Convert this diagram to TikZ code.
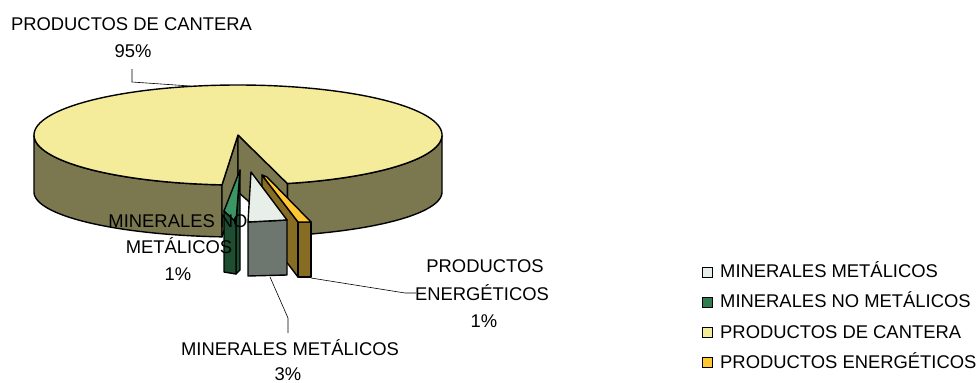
\documentclass[tikz,border=0pt]{standalone}
\usepackage{fontspec}
\setmainfont{Liberation Sans}
\definecolor{topY}{RGB}{245,236,155}
\definecolor{sideO}{RGB}{123,120,80}
\definecolor{gDark}{RGB}{30,77,50}
\definecolor{gLight}{RGB}{60,150,100}
\definecolor{wTop}{RGB}{232,238,232}
\definecolor{grayF}{RGB}{110,118,112}
\definecolor{brownF}{RGB}{135,108,35}
\definecolor{yelO}{RGB}{255,200,50}
\definecolor{legG}{RGB}{46,125,80}
\tikzset{
  face/.style={draw=black,line width=1.4pt,line join=round},
  lbl/.style={inner sep=0pt,anchor=base,font=\fontsize{18.4}{22}\selectfont,text=black},
  leglbl/.style={inner sep=0pt,anchor=base west,font=\fontsize{18.4}{22}\selectfont,text=black},
  leader/.style={draw=black,line width=0.6pt},
  legbox/.style={draw=black,line width=0.9pt}
}
\begin{document}
\begin{tikzpicture}[x=1pt,y=-1pt]
\useasboundingbox (0,0) rectangle (978,383);
% pie side (right and left front parts)
\path[face,fill=sideO] plot[domain=0:76,samples=50] ({238+204*cos(\x)},{135+50*sin(\x)})
  -- plot[domain=76:0,samples=50] ({238+204*cos(\x)},{192+45*sin(\x)}) -- cycle;
\path[face,fill=sideO] plot[domain=94.5:180,samples=50] ({238+204*cos(\x)},{135+50*sin(\x)})
  -- plot[domain=180:94.5,samples=50] ({238+204*cos(\x)},{192+45*sin(\x)}) -- cycle;
% cut faces
\coordinate (apex) at (238,135);
\coordinate (apexb) at (238,192);
\path[face,fill=sideO] (apex) -- ({238+204*cos(94.5)},{135+50*sin(94.5)})
  -- ({238+204*cos(94.5)},{192+45*sin(94.5)}) -- (apexb) -- cycle;
\path[face,fill=sideO] (apex) -- ({238+204*cos(76)},{135+50*sin(76)})
  -- ({238+204*cos(76)},{192+45*sin(76)}) -- (apexb) -- cycle;
% top face
\path[face,fill=topY] (apex) -- plot[domain=94.5:436,samples=200] ({238+204*cos(\x)},{135+50*sin(\x)}) -- cycle;
% brown slice (productos energeticos)
\path[face,fill=brownF] (262,175) -- (298,222) -- (298,277) -- (262,230) -- cycle;
\path[face,fill=brownF] (298,222) -- (311,222) -- (311,277) -- (298,277) -- cycle;
\path[face,fill=yelO] (262,175) -- (267,177) -- (311,222) -- (298,222) -- cycle;
% gray slice (minerales metalicos)
\path[face,fill=grayF] (248,222) -- (287,220) -- (287,275) -- (248,276) -- cycle;
\path[face,fill=wTop] (251,172) -- (287,220) -- (248,222) -- cycle;
% green slice (minerales no metalicos)
\path[face,fill=gDark] (240,170) -- (240,270) -- (236,274) -- (236,222) -- cycle;
\path[face,fill=gDark] (224,211) -- (236,222) -- (236,274) -- (224,272) -- cycle;
\path[face,fill=gLight] (240,170) -- (236,222) -- (224,211) -- cycle;
% labels
\node[lbl] (cant1) at (131.5,30) {PRODUCTOS DE CANTERA};
\node[lbl] (cant2) at (133,57) {95\%};
\node[lbl] (nom1) at (178,227) {MINERALES NO};
\node[lbl] (nom2) at (179,253) {METÁLICOS};
\node[lbl] (nom3) at (178,280) {1\%};
\node[lbl] (met1) at (290,355) {MINERALES METÁLICOS};
\node[lbl] (met2) at (288,380) {3\%};
\node[lbl] (ene1) at (485,272) {PRODUCTOS};
\node[lbl] (ene2) at (482,300) {ENERGÉTICOS};
\node[lbl] (ene3) at (484,327) {1\%};
% leaders
\coordinate (lc0) at (132,69);
\coordinate (lc1) at (132,82);
\coordinate (lc2) at (190,86);
\draw[leader] (lc0) -- (lc1) -- (lc2);
\coordinate (lm0) at (270,277);
\coordinate (lm1) at (288,318);
\coordinate (lm2) at (288,333);
\draw[leader] (lm0) -- (lm1) -- (lm2);
\coordinate (le0) at (311,278);
\coordinate (le1) at (405,293);
\coordinate (le2) at (416,293);
\draw[leader] (le0) -- (le1) -- (le2);
% legend
\draw[legbox,fill=wTop] (702.5,267.5) rectangle (712.5,277.5);
\draw[legbox,fill=legG] (702.5,297.5) rectangle (712.5,307.5);
\draw[legbox,fill=topY] (702.5,327.5) rectangle (712.5,337.5);
\draw[legbox,fill=yelO] (702.5,357.5) rectangle (712.5,367.5);
\node[leglbl] (leg1) at (720,277) {MINERALES METÁLICOS};
\node[leglbl] (leg2) at (720,307.5) {MINERALES NO METÁLICOS};
\node[leglbl] (leg3) at (720,338) {PRODUCTOS DE CANTERA};
\node[leglbl] (leg4) at (720,368) {PRODUCTOS ENERGÉTICOS};
\end{tikzpicture}
\end{document}
